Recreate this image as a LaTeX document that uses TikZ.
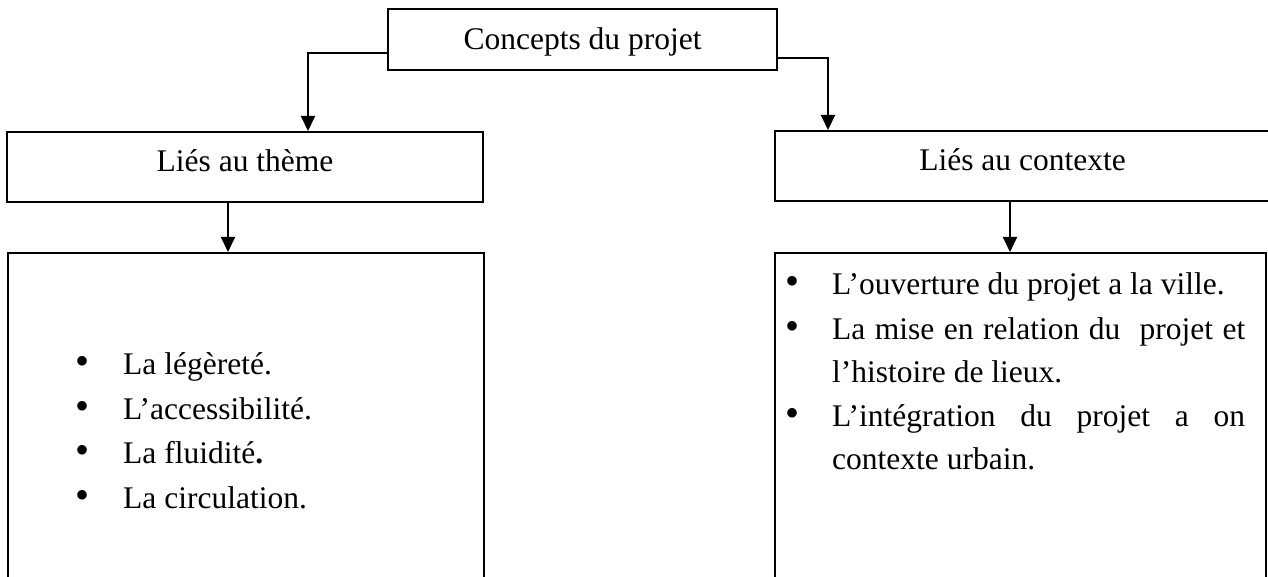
\documentclass[tikz,border=0pt]{standalone}
\usepackage{fontspec}
\setmainfont{Liberation Serif}
\usetikzlibrary{arrows.meta}
\begin{document}
\begin{tikzpicture}[x=1pt,y=-1pt,
  txt/.style={font=\fontsize{31.5}{44}\selectfont, inner sep=0pt},
  box/.style={draw, line width=2pt, inner sep=0pt, txt},
  listbox/.style={draw, line width=2pt, inner sep=0pt, anchor=north west},
  conn/.style={line width=2pt, -{Triangle[length=15pt,width=14pt]}},
  blt/.style={font=\fontsize{40}{40}\selectfont, inner sep=0pt},
  item/.style={txt, anchor=base west}]
\useasboundingbox (0,0) rectangle (1268,577);
\clip (0,0) rectangle (1268,577);
% boxes
\node[box, minimum width=389pt, text height=41pt, text depth=20pt, anchor=base] (top) at (582.5,50) {Concepts du projet};
\node[box, minimum width=476pt, text height=40pt, text depth=30pt, anchor=base] (theme) at (245,172) {Liés au thème};
\node[box, minimum width=495pt, text height=40pt, text depth=30pt, anchor=base] (ctx) at (1022.5,171) {Liés au contexte};
\node[listbox, minimum width=476pt, minimum height=360pt] (lbox) at (7,252) {};
\node[listbox, minimum width=491pt, minimum height=360pt] (rbox) at (774,252) {};
% connectors
\draw[conn] ([yshift=18pt]top.south west) -| ([xshift=63pt]theme.north);
\draw[conn] ([yshift=13pt]top.south east) -| ([xshift=-194.5pt]ctx.north);
\draw[conn] ([xshift=-17pt]theme.south) -- ([xshift=-17pt]theme.south |- lbox.north);
\draw[conn] ([xshift=-12.5pt]ctx.south) -- ([xshift=-12.5pt]ctx.south |- rbox.north);
% left list
\node[blt] (lb1) at (83,365) {•};
\node[item] (l1) at (123,374) {La légèreté.};
\node[blt] (lb2) at (83,410) {•};
\node[item] (l2) at (123,419) {L’accessibilité.};
\node[blt] (lb3) at (83,454) {•};
\node[item] (l3) at (123,463) {La fluidité\textbf{.}};
\node[blt] (lb4) at (83,499) {•};
\node[item] (l4) at (123,508) {La circulation.};
% right list
\node[blt] (rb1) at (792,285) {•};
\node[item] (r1) at (832,294) {L’ouverture du projet a la ville.};
\node[blt] (rb2) at (792,330) {•};
\node[item] (r2) at (832,339) {\makebox[413pt][s]{La mise en relation du\ \ projet et}};
\node[item] (r3) at (832,382) {l’histoire de lieux.};
\node[blt] (rb3) at (792,417) {•};
\node[item] (r4) at (832,426) {\makebox[413pt][s]{L’intégration du projet a on}};
\node[item] (r5) at (832,469) {contexte urbain.};
\end{tikzpicture}
\end{document}
